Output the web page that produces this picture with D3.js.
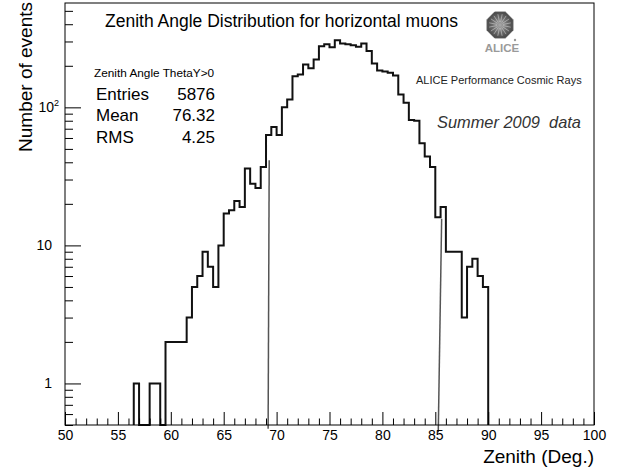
<!DOCTYPE html>
<html><head><meta charset="utf-8">
<script src="https://cdn.jsdelivr.net/npm/d3@7"></script>
<style>
body{margin:0;background:#fff}
svg{display:block}
text{font-family:"Liberation Sans",Arial,Helvetica,sans-serif}
</style>
</head><body>
<svg id="c" width="627" height="475"></svg>
<script>
// ---- data ----
const binLow = [56.5,57,57.5,58,58.5,59,59.5,60,60.5,61,61.5,62,62.5,63,63.5,64,64.5,65,65.5,66,66.5,67,67.5,68,68.5,69,69.5,70,70.5,71,71.5,72,72.5,73,73.5,74,74.5,75,75.5,76,76.5,77,77.5,78,78.5,79,79.5,80,80.5,81,81.5,82,82.5,83,83.5,84,84.5,85,85.5,86,86.5,87,87.5,88,88.5,89,89.5];
const counts = [1,0,0,1,1,0,2,2,2,2,3,5,6,9,7,5,10,17,18,21,19,36,28,26,37,63,72,63,100,114,168,173,204,192,222,277,286,273,306,290,286,282,275,290,256,208,185,182,178,170,124,108,81,80,55,44,37,16,19,9,9,9,3,7,8,6,5];
const binWidth = 0.5;
const xTickValues = [50,55,60,65,70,75,80,85,90,95,100];
const xTickLabels = ["50","55","60","65","70","75","80","85","90","95","100"];
const xMinorValues = [51,52,53,54,56,57,58,59,61,62,63,64,66,67,68,69,71,72,73,74,76,77,78,79,81,82,83,84,86,87,88,89,91,92,93,94,96,97,98,99];
const yTickValues = [1,10,100];
const yTickLabels = ["1","10","10^2"];
const yMinorValues = [0.5,0.6,0.7,0.8,0.9,2,3,4,5,6,7,8,9,20,30,40,50,60,70,80,90,200,300,400,500];
const statsTitle = "Zenith Angle ThetaY>0";
const statsLabels = ["Entries","Mean","RMS"];
const statsValues = ["5876","76.32","4.25"];
const cutLineA = [[69.3,41.3],[69.2,0.47]];
const cutLineB = [[85.6,15.6],[85.28,0.444]];
const titleText = "Zenith Angle Distribution for horizontal muons";
const xTitle = "Zenith (Deg.)";
const yTitle = "Number of events";

// ---- layout ----
const L = 65, R = 594, T = 3, B = 425;
const svg = d3.select("#c");
const x = d3.scaleLinear().domain([50,100]).range([L,R]);
const y = d3.scaleLog().domain([0.5,570]).range([B,T]);
const yv = v => v > 0 ? y(v) : B;

// histogram step path
const pts = [[x(binLow[0]), B]];
binLow.forEach((lo,i) => {
  pts.push([x(lo), yv(counts[i])]);
  pts.push([x(lo+binWidth), yv(counts[i])]);
});
pts.push([x(binLow[binLow.length-1]+binWidth), B]);
svg.append("path").attr("d", d3.line()(pts))
  .attr("fill","none").attr("stroke","#111").attr("stroke-width",2)
  .attr("stroke-linejoin","miter");

// cut lines
[cutLineA, cutLineB].forEach(c => {
  svg.append("line")
    .attr("x1", x(c[0][0])).attr("y1", y(c[0][1]))
    .attr("x2", x(c[1][0])).attr("y2", y(c[1][1]))
    .attr("stroke","#555").attr("stroke-width",1.5);
});

// frame
svg.append("rect").attr("x",L).attr("y",T).attr("width",R-L).attr("height",B-T)
  .attr("fill","none").attr("stroke","#000").attr("stroke-width",1);

// x axis
const gx = svg.append("g").attr("transform",`translate(0,${B})`);
gx.call(d3.axisBottom(x).tickValues(xTickValues).tickSize(-13).tickPadding(5)
  .tickFormat((d,i)=>xTickLabels[i]));
gx.append("g").call(d3.axisBottom(x).tickValues(xMinorValues).tickSize(-6.5).tickFormat(""));
gx.selectAll(".domain").remove();
gx.selectAll("line").attr("stroke","#000");
gx.selectAll("text").attr("font-size",14).attr("fill","#000")
  .style("font-family",'"Liberation Sans",Arial,sans-serif');

// y axis
const gy = svg.append("g").attr("transform",`translate(${L},0)`);
gy.call(d3.axisLeft(y).tickValues(yTickValues).tickSize(-16).tickFormat(""));
gy.append("g").call(d3.axisLeft(y).tickValues(yMinorValues).tickSize(-8).tickFormat(""));
gy.selectAll(".domain").remove();
gy.selectAll("line").attr("stroke","#000");
yTickValues.forEach((v,i) => {
  const lab = yTickLabels[i];
  const t = svg.append("text").attr("y", y(v)+5).attr("font-size",14).attr("fill","#000");
  if (lab.includes("^")) {
    const [base, ex] = lab.split("^");
    t.attr("x", 59).attr("text-anchor","end");
    t.append("tspan").text(base);
    t.append("tspan").attr("font-size",9).attr("dy",-6).text(ex);
  } else {
    t.attr("x", 52).attr("text-anchor","end").text(lab);
  }
});

// axis titles
svg.append("text").attr("x",R).attr("y",463).attr("text-anchor","end")
  .attr("font-size",19).text(xTitle);
svg.append("text").attr("transform",`translate(32,2) rotate(-90)`)
  .attr("text-anchor","end").attr("font-size",19).text(yTitle);

// title
svg.append("text").attr("x",105).attr("y",27).attr("font-size",17.5).text(titleText);

// stats
svg.append("text").attr("x",94).attr("y",77).attr("font-size",11.8).text(statsTitle);
statsLabels.forEach((s,i) => {
  const yy = 100 + i*21.3;
  svg.append("text").attr("x",96).attr("y",yy).attr("font-size",17).text(s);
  svg.append("text").attr("x",215).attr("y",yy).attr("text-anchor","end").attr("font-size",17).text(statsValues[i]);
});

// ALICE labels
svg.append("text").attr("x",416).attr("y",84).attr("font-size",11).attr("fill","#222")
  .text("ALICE Performance Cosmic Rays");
svg.append("text").attr("x",437).attr("y",128).attr("font-size",16.4)
  .attr("font-style","italic").attr("fill","#333").style("white-space","pre")
  .text("Summer 2009  data");

// ALICE logo
const defs = svg.append("defs");
const rg = defs.append("radialGradient").attr("id","lg");
rg.append("stop").attr("offset","0%").attr("stop-color","#aaa");
rg.append("stop").attr("offset","60%").attr("stop-color","#6a6a6a");
rg.append("stop").attr("offset","100%").attr("stop-color","#4a4a4a");
const cx = 500, cy = 25, rr = 14;
const oct = d3.range(8).map(k => {
  const a = Math.PI/8 + k*Math.PI/4;
  return [cx + rr*Math.cos(a), cy + rr*Math.sin(a)];
});
svg.append("polygon").attr("points", oct.map(p=>p.join(",")).join(" "))
  .attr("fill","url(#lg)").attr("stroke","#555").attr("stroke-width",1);
d3.range(16).forEach(k => {
  const a = k*Math.PI/8 + 0.2;
  svg.append("line").attr("x1",cx+3*Math.cos(a)).attr("y1",cy+3*Math.sin(a))
    .attr("x2",cx+11*Math.cos(a)).attr("y2",cy+11*Math.sin(a))
    .attr("stroke","#ccc").attr("stroke-width",0.6);
});
svg.append("text").attr("x",502).attr("y",52).attr("text-anchor","middle")
  .attr("font-size",11.5).attr("font-weight","bold").attr("fill","#9a9a9a").text("ALICE");
svg.append("circle").attr("cx",515).attr("cy",40).attr("r",1.2).attr("fill","#9a9a9a");
</script>
</body></html>
